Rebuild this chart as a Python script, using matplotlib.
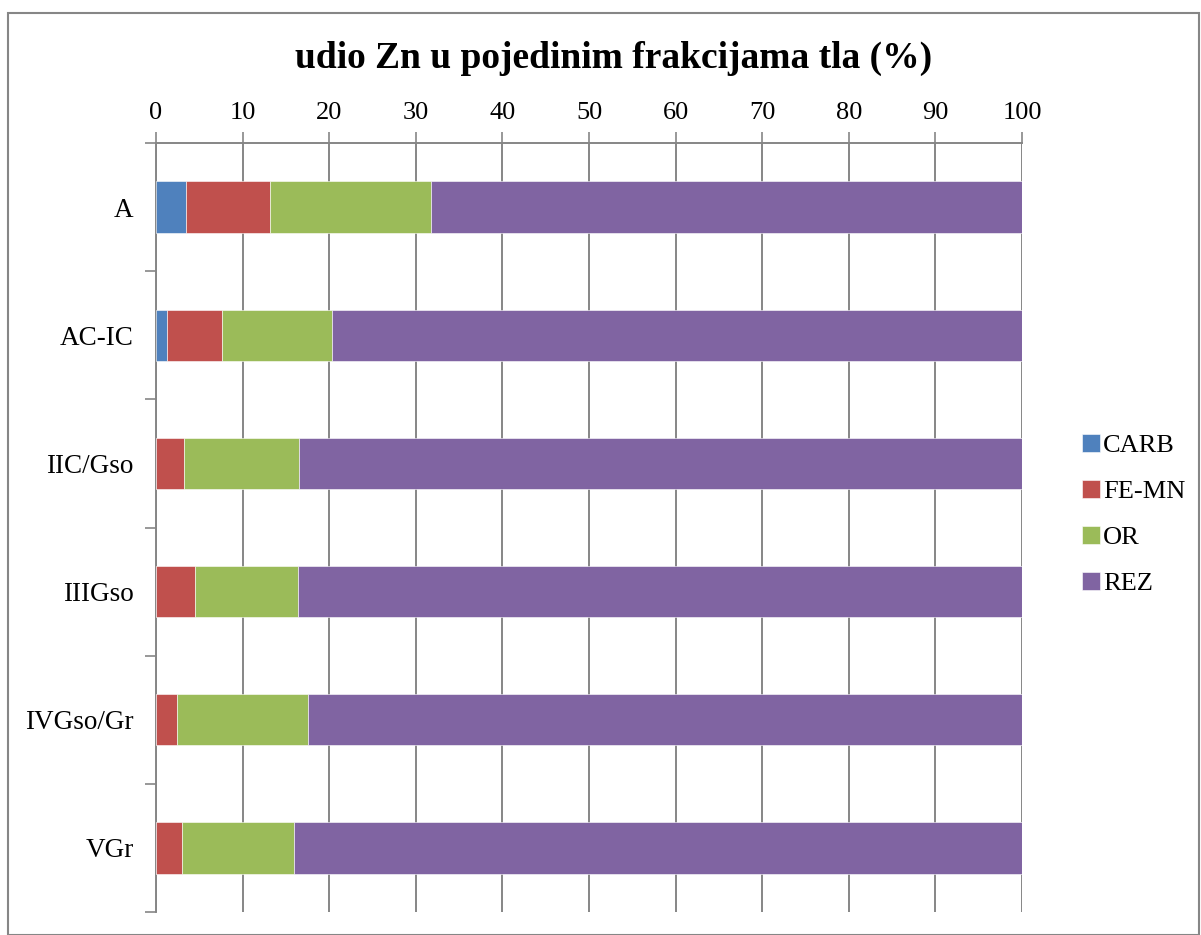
import numpy as np
import matplotlib.pyplot as plt
from matplotlib.patches import Rectangle

plt.rcParams['font.family'] = ['Liberation Serif', 'DejaVu Serif']

# horizons, top to bottom
horizons = ['A', 'AC-IC', 'IIC/Gso', 'IIIGso', 'IVGso/Gr', 'VGr']
# fraction shares of Zn (%)
carb = [3.5, 1.3, 0.0, 0.0, 0.0, 0.0]
fe_mn = [9.7, 6.3, 3.2, 4.5, 2.4, 3.0]
org = [18.6, 12.7, 13.3, 11.9, 15.2, 12.9]
rez = [68.2, 79.7, 83.5, 83.6, 82.4, 84.1]

series = [('CARB', carb, '#4f81bd'), ('FE-MN', fe_mn, '#c0504d'),
          ('OR', org, '#9bbb59'), ('REZ', rez, '#8064a2')]
grid_c = '#868686'

fig = plt.figure(figsize=(12.01, 9.35), dpi=100)
ax = fig.add_axes([156 / 1201, 1 - 912 / 935, 866 / 1201, 769 / 935])

y = np.arange(len(horizons))
left = np.zeros(len(horizons))
for name, vals, col in series:
    vals = np.array(vals)
    ax.barh(y, vals, left=left, height=0.4, color=col, edgecolor='white',
            linewidth=0.4, label=name, zorder=3)
    left += vals

ax.set_xlim(0, 100)
ax.set_ylim(len(horizons) - 0.5, -0.5)
ax.set_xticks(np.arange(0, 101, 10))
ax.xaxis.tick_top()
ax.tick_params(axis='x', length=8, width=1.2, color=grid_c, labelsize=19, pad=6)
ax.set_yticks(y)
ax.set_yticklabels(horizons)
ax.tick_params(axis='y', length=0, labelsize=19.5, pad=16)
# category boundary ticks on the left axis
ax.set_yticks(np.arange(-0.5, len(horizons) + 0.5, 1), minor=True)
ax.tick_params(axis='y', which='minor', length=8, width=1.2, color=grid_c)
ax.grid(axis='x', color=grid_c, linewidth=1.4, zorder=0)
ax.set_axisbelow(True)
for s in ['right', 'bottom']:
    ax.spines[s].set_visible(False)
for s in ['left', 'top']:
    ax.spines[s].set_color(grid_c)
    ax.spines[s].set_linewidth(1.4)

fig.text(0.5105, 1 - 58 / 935, 'udio Zn u pojedinim frakcijama tla (%)',
         ha='center', va='center', fontsize=27, fontweight='bold')

ax.legend(loc='center left', bbox_to_anchor=((1058 - 156) / 866, 0.5 + 13 / 769),
          frameon=False, fontsize=19, handlelength=0.7, handleheight=0.7,
          handletextpad=0.1, labelspacing=0.85)

fig.patches.append(Rectangle((8 / 1201, 0), 1 - 10 / 1201, 1 - 13 / 935,
                             transform=fig.transFigure, fill=False,
                             edgecolor=grid_c, linewidth=1.5))

fig.savefig('out.png', dpi=100)
